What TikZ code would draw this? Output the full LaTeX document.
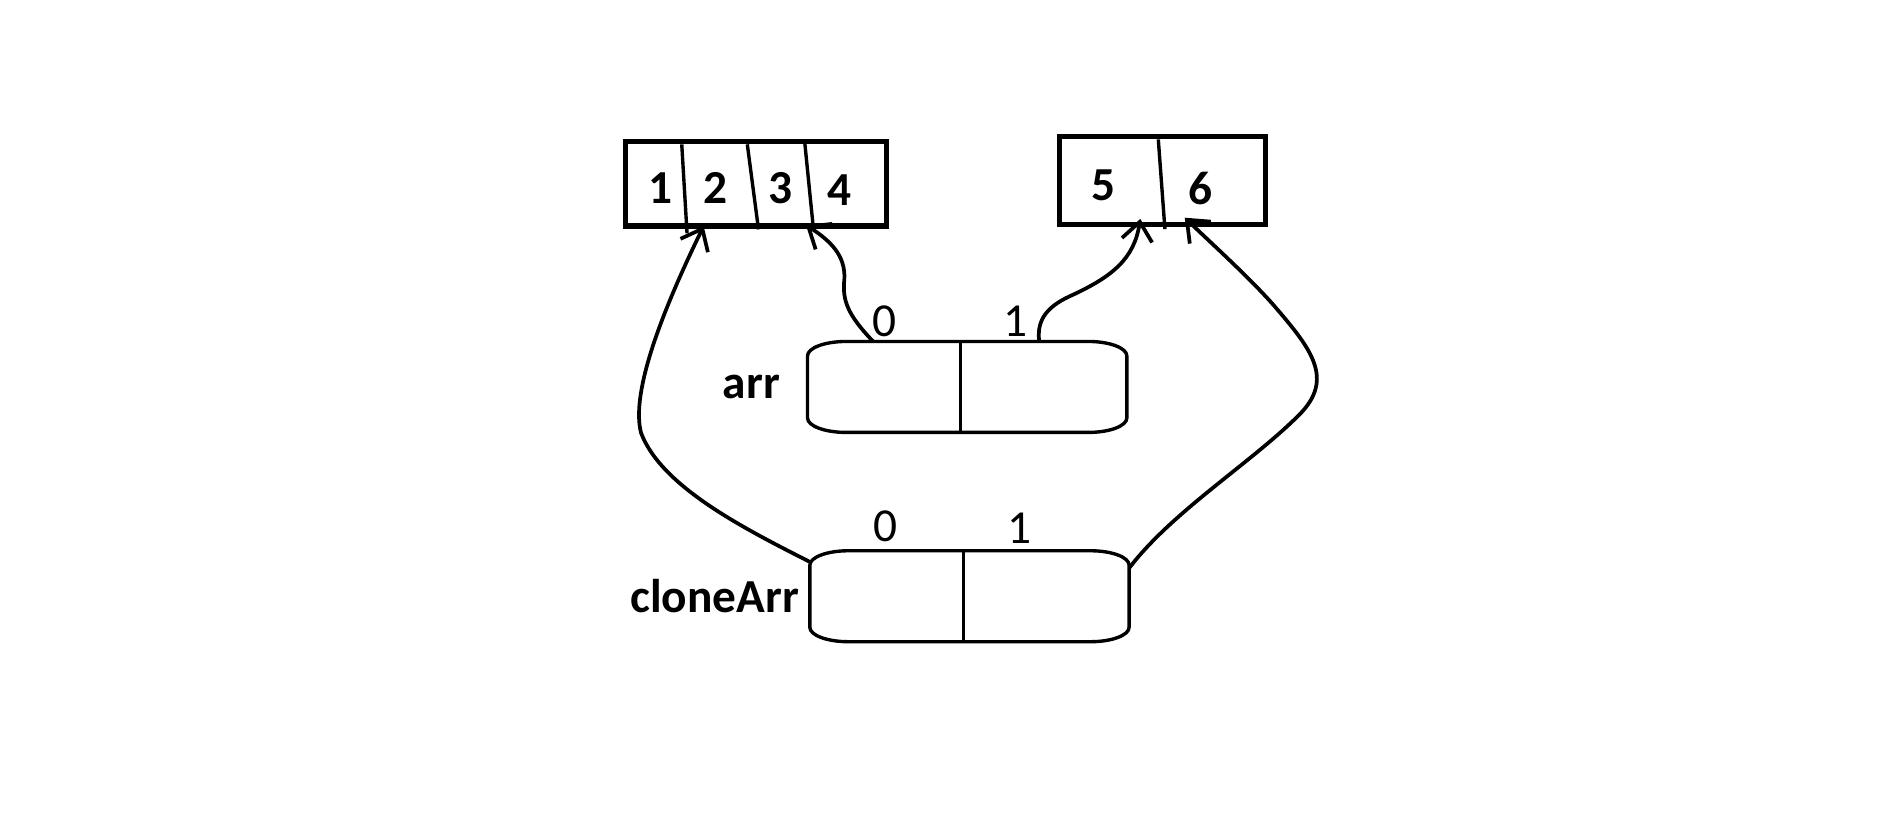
\documentclass[tikz,border=0pt]{standalone}
\usepackage{fontspec}
\setmainfont{Carlito}
\usetikzlibrary{arrows.meta,positioning}

\begin{document}
\begin{tikzpicture}[x=0.025cm,y=-0.025cm,
    ptr/.style={line width=2.2pt,-{Straight Barb[length=11pt,width=18pt,line width=2.2pt]}},
    heap/.style={draw,line width=3pt,inner sep=0pt,outer sep=0pt},
    slot/.style={inner sep=0pt,outer sep=0pt,minimum width=6.635cm,minimum height=1.89cm},
    val/.style={font=\fontsize{28}{30}\selectfont\bfseries},
    idx/.style={font=\fontsize{28}{30}\selectfont}]

    \useasboundingbox (0,0) rectangle (1568,681.7);

    % heap arrays
    \node[heap,minimum width=5.425cm,minimum height=1.75cm] (first) at (628.5,152.9) {};
    \node[heap,minimum width=4.27cm,minimum height=1.82cm] (second) at (966.5,150) {};
    \draw[line width=2pt] (566.8,120) -- (571.2,194);
    \draw[line width=2pt] (621.3,120) -- (630.6,190.7);
    \draw[line width=2pt] (668.8,115.8) -- (676.3,190.7);
    \draw[line width=2pt] (963,115.9) -- (968.5,190.5);

    \node[val] (v1) at (549,156.6) {1};
    \node[val] (v2) at (594.6,156.6) {2};
    \node[val] (v3) at (649.2,156.6) {3};
    \node[val] (v4) at (698.1,158) {4};
    \node[val] (v5) at (917.5,153.8) {5};
    \node[val] (v6) at (998,156.6) {6};

    % reference arrays
    \node[slot] (arr) at (804.1,321.7) {};
    \node[slot] (clone) at (806,495.7) {};
    \foreach \s in {arr,clone}{
      \draw[line width=2pt] ([xshift=0.8cm]\s.north west) -- ([xshift=-0.8cm]\s.north east)
        arc[start angle=90,end angle=0,x radius=0.8cm,y radius=0.3cm]
        -- ([yshift=0.3cm]\s.south east)
        arc[start angle=0,end angle=-90,x radius=0.8cm,y radius=0.3cm]
        -- ([xshift=0.8cm]\s.south west)
        arc[start angle=270,end angle=180,x radius=0.8cm,y radius=0.3cm]
        -- ([yshift=-0.3cm]\s.north west)
        arc[start angle=180,end angle=90,x radius=0.8cm,y radius=0.3cm];
    }
    \draw[line width=1.8pt] (798.7,284) -- (798.7,359.4);
    \draw[line width=1.8pt] (801.3,457.8) -- (801.3,533.5);

    \node[val,left=0.45cm of arr] (arrname) {arr};
    \node[val,left=0.1cm of clone] (clonename) {cloneArr};
    \node[idx] (a0) at (735.3,267.4) {0};
    \node[idx] (a1) at (844,267.4) {1};
    \node[idx] (c0) at (736.4,437.9) {0};
    \node[idx] (c1) at (847.7,439.3) {1};

    % pointers
    \coordinate (arr0) at (726,284);
    \coordinate (arr1) at (864,284);
    \coordinate (clone0) at (673,467);
    \coordinate (clone1) at (939,472);
    \coordinate (to3) at (670,187);
    \coordinate (to5) at (948,182);
    \coordinate (to2) at (585,188);
    \coordinate (to6) at (985,181);

    \draw[ptr] (arr0) .. controls (705,262) and (700,250) .. (702,232)
        .. controls (703,212) and (690,200) .. (to3);
    \draw[ptr] (arr1) .. controls (862,268) and (868,256) .. (890,246)
        .. controls (925,230) and (943,215) .. (to5);
    \draw[ptr] (clone0) .. controls (620,440) and (550,405) .. (533,360)
        .. controls (525,330) and (545,270) .. (to2);
    \draw[ptr] (clone1) .. controls (975,425) and (1040,385) .. (1080,345)
        .. controls (1110,315) and (1090,290) .. (1060,255)
        .. controls (1040,232) and (1010,205) .. (to6);

\end{tikzpicture}
\end{document}
